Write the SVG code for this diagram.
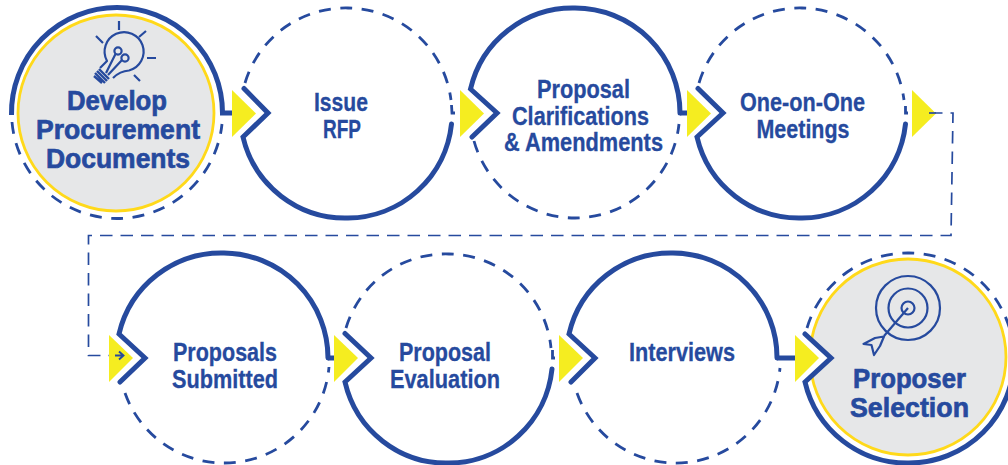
<svg xmlns="http://www.w3.org/2000/svg" width="1008" height="465" viewBox="0 0 1008 465">
<style>
.s{fill:none;stroke:#264a9e;stroke-width:5;stroke-linecap:round;stroke-linejoin:miter}
.h{fill:none;stroke:#264a9e;stroke-width:5;stroke-linecap:butt;stroke-linejoin:miter}
.d{fill:none;stroke:#264a9e;stroke-width:2.8;stroke-dasharray:12 9.500}
.k{fill:none;stroke:#264a9e;stroke-width:2.8}
.c{fill:none;stroke:#264a9e;stroke-width:1.700;stroke-dasharray:12.500 8}
.t{fill:#f5ed20}
.g{fill:#e6e7e8;stroke:#ffd91a;stroke-width:2.800}
.i{fill:none;stroke:#264a9e;stroke-width:2.200;stroke-linecap:butt;stroke-linejoin:round}
text{font-family:"Liberation Sans",Arial,sans-serif;font-weight:700;fill:#264a9e}
.m{font-size:25px;stroke:#264a9e;stroke-width:.3}
.b{font-size:28px;stroke:#264a9e;stroke-width:.7}
</style>
<g id="connectors">
<path class="c" d="M930,113 H953 L951,235.500 H88.500 V355.500 H116"/>
</g>
<g id="node-develop">
<circle class="g" cx="116" cy="113" r="98"/>
<path class="s" style="stroke-linecap:butt" d="M11.500,115 A105.500,105.500 0 0 1 117,7.500 A105.500,105.500 0 0 1 222.500,113 H232"/>
<path class="d" d="M12,122 A105.500,105.500 0 0 0 117,218.500 A105.500,105.500 0 0 0 222,124"/>
<path class="i" d="M100,68 L107,61 A19.500,19.500 0 1 1 129,70.500 Q120,71 113,78"/>
<path class="i" d="M119,21 V30 M96,36 L103,43 M146,31 L139,37 M147,58 H156 M134,75 L140,81"/>
<path class="i" d="M106,73 L115.500,54 M108,75 L122,60"/>
<circle class="i" cx="118" cy="51" r="3.600"/><circle class="i" cx="125" cy="58" r="3.600"/>
<path class="i" style="stroke-width:2.400" d="M99,69 L109,79 M97,71 L107,81 M95,73 L105,83 M94,76 L102,83"/>
<text class="b" x="117" y="110" text-anchor="middle" textLength="100" lengthAdjust="spacingAndGlyphs">Develop</text>
<text class="b" x="118" y="139" text-anchor="middle" textLength="164" lengthAdjust="spacingAndGlyphs">Procurement</text>
<text class="b" x="118" y="168" text-anchor="middle" textLength="144" lengthAdjust="spacingAndGlyphs">Documents</text>
</g>
<g id="node-issue">
<path class="s" d="M244,88.500 L268,113 L243,137 A105,105 0 0 0 348,218 A105,105 0 0 0 451.500,124"/>
<path class="d" d="M245,83 A105,105 0 0 1 348,8 A105,105 0 0 1 451,100"/>
<path class="k" d="M451.500,105 L452,113 H455"/>
<text class="m" x="341" y="111" text-anchor="middle" textLength="54" lengthAdjust="spacingAndGlyphs">Issue</text>
<text class="m" x="342" y="138" text-anchor="middle" textLength="38" lengthAdjust="spacingAndGlyphs">RFP</text>
</g>
<g id="node-clarifications">
<path class="s" d="M472,137 L497,113 L470.500,89 A105,105 0 0 1 575,8 A105,105 0 0 1 680,113"/>
<path class="h" d="M680,113 H688"/>
<path class="d" d="M474,141 A105,105 0 0 0 575,218 A105,105 0 0 0 679,124"/>
<text class="m" x="583.500" y="98" text-anchor="middle" textLength="93" lengthAdjust="spacingAndGlyphs">Proposal</text>
<text class="m" x="580.500" y="124.500" text-anchor="middle" textLength="137" lengthAdjust="spacingAndGlyphs">Clarifications</text>
<text class="m" x="583.500" y="151" text-anchor="middle" textLength="159" lengthAdjust="spacingAndGlyphs">&amp; Amendments</text>
</g>
<g id="node-meetings">
<path class="s" d="M698,88.500 L723,113 L697,137 A105,105 0 0 0 802,218 A105,105 0 0 0 905.500,124"/>
<path class="d" d="M699,83 A105,105 0 0 1 802,8 A105,105 0 0 1 904,100"/>
<path class="k" d="M905.500,106 V113 H908"/>
<text class="m" x="802.500" y="111" text-anchor="middle" textLength="125" lengthAdjust="spacingAndGlyphs">One-on-One</text>
<text class="m" x="803" y="137.500" text-anchor="middle" textLength="93" lengthAdjust="spacingAndGlyphs">Meetings</text>
</g>
<g id="node-submitted">
<path class="s" d="M120,382 L145,358 L119,334 A105,105 0 0 1 224,253 A105,105 0 0 1 328,358"/>
<path class="h" d="M328,358 H334"/>
<path class="d" d="M125,393 A105,105 0 0 0 224,463 A105,105 0 0 0 329,367"/>
<text class="m" x="225" y="361" text-anchor="middle" textLength="104" lengthAdjust="spacingAndGlyphs">Proposals</text>
<text class="m" x="225" y="387.500" text-anchor="middle" textLength="106" lengthAdjust="spacingAndGlyphs">Submitted</text>
</g>
<g id="node-evaluation">
<path class="s" d="M345,333.500 L371,358 L345,382 A104,105 0 0 0 449,463 A104,105 0 0 0 552,369"/>
<path class="d" d="M346,328 A104,104 0 0 1 449,254 A104,104 0 0 1 551,348"/>
<text class="m" x="445" y="361" text-anchor="middle" textLength="92" lengthAdjust="spacingAndGlyphs">Proposal</text>
<text class="m" x="445" y="387.500" text-anchor="middle" textLength="110" lengthAdjust="spacingAndGlyphs">Evaluation</text>
</g>
<g id="node-interviews">
<path class="s" d="M571,382 L595,358 L569,334 A104.500,104.500 0 0 1 673,253 A104.500,104.500 0 0 1 777,358"/>
<path class="h" d="M777,358 H795"/>
<path class="k" d="M552.500,350 V358 H555"/>
<path class="d" d="M577,393 A105,105 0 0 0 673,463 A105,105 0 0 0 780,368"/>
<text class="m" x="682" y="361" text-anchor="middle" textLength="106" lengthAdjust="spacingAndGlyphs">Interviews</text>
</g>
<g id="node-selection">
<circle class="g" cx="908" cy="357" r="98"/>
<polygon points="803,331 831,358 803,385" fill="#fff"/>
<path class="s" d="M805,334 L831,358 L805,382 A105,105 0 0 0 909,463 A105,105 0 0 0 1014,358"/>
<path class="d" d="M807,328 A105,105 0 0 1 909,253 A105,105 0 0 1 1010,330"/>
<circle class="i" cx="908" cy="308" r="32"/><circle class="i" cx="908" cy="308" r="19.500"/><circle class="i" cx="908" cy="308" r="6.500"/>
<path class="i" d="M908,308 L884,336"/>
<path class="i" d="M863.500,344 L875,338 L884,336.500 L880,346 L874,355 L871.500,345 Z"/>
<text class="b" x="909.500" y="387.500" text-anchor="middle" textLength="113" lengthAdjust="spacingAndGlyphs">Proposer</text>
<text class="b" x="909.500" y="416.500" text-anchor="middle" textLength="119" lengthAdjust="spacingAndGlyphs">Selection</text>
</g>
<g id="markers">
<polygon class="t" points="232,90 256,113.500 232,137"/>
<polygon class="t" points="460,90 484,113.500 460,137"/>
<polygon class="t" points="687,90 711,113.500 687,137"/>
<polygon class="t" points="912,90 936,113.500 912,137"/>
<polygon class="t" points="109,335 133,358 109,382"/>
<polygon class="t" points="334,335 358,358 334,382"/>
<polygon class="t" points="559,335 583,358 559,382"/>
<polygon class="t" points="795,335 819,358 795,382"/>
</g>
<path d="M115,355.500 H123 M119,351.500 L123.500,355.500 L119,359.500" fill="none" stroke="#264a9e" stroke-width="1.900"/>
<path d="M929,113 H936" fill="none" stroke="#264a9e" stroke-width="1.700"/>
</svg>
